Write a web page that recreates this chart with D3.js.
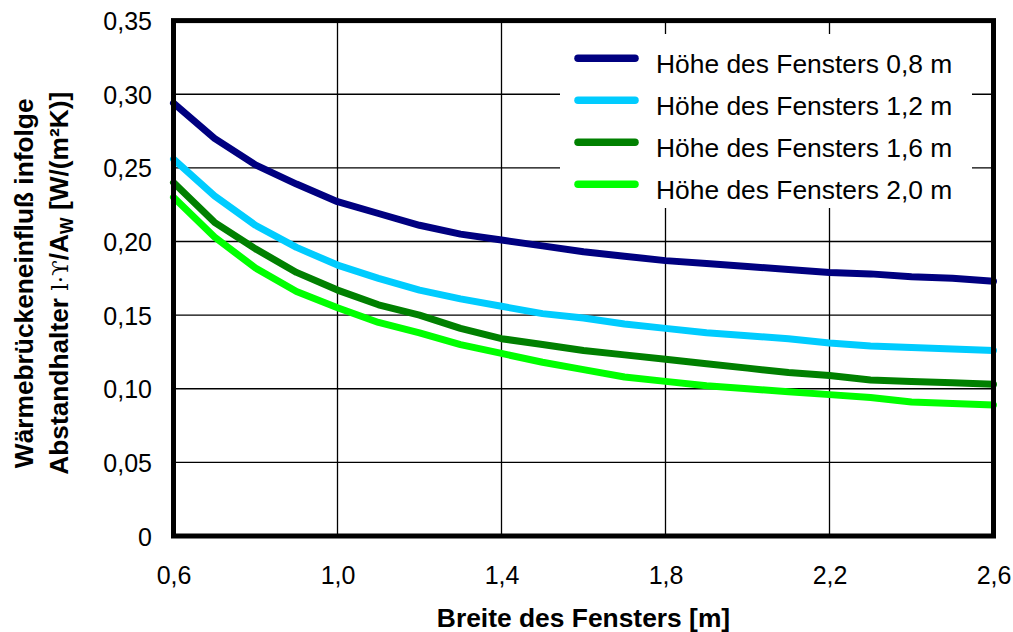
<!DOCTYPE html>
<html>
<head>
<meta charset="utf-8">
<script src="https://cdn.jsdelivr.net/npm/d3@7"></script>
<style>
  html, body { margin: 0; padding: 0; background: #fff; }
  svg { display: block; }
  text { font-family: "Liberation Sans", Arial, sans-serif; fill: #000; }
</style>
</head>
<body>
<svg id="chart" width="1013" height="632"></svg>
<script>
// ---- data ----
const widths = [0.6, 0.7, 0.8, 0.9, 1.0, 1.1, 1.2, 1.3, 1.4, 1.5, 1.6, 1.7, 1.8, 1.9, 2.0, 2.1, 2.2, 2.3, 2.4, 2.5, 2.6];
const height08 = [0.294, 0.270, 0.252, 0.239, 0.227, 0.219, 0.211, 0.205, 0.201, 0.197, 0.193, 0.190, 0.187, 0.185, 0.183, 0.181, 0.179, 0.178, 0.176, 0.175, 0.173];
const height12 = [0.256, 0.231, 0.211, 0.196, 0.184, 0.175, 0.167, 0.161, 0.156, 0.151, 0.148, 0.144, 0.141, 0.138, 0.136, 0.134, 0.131, 0.129, 0.128, 0.127, 0.126];
const height16 = [0.240, 0.213, 0.195, 0.179, 0.167, 0.157, 0.150, 0.141, 0.134, 0.130, 0.126, 0.123, 0.120, 0.117, 0.114, 0.111, 0.109, 0.106, 0.105, 0.104, 0.103];
const height20 = [0.230, 0.203, 0.182, 0.166, 0.155, 0.145, 0.138, 0.130, 0.124, 0.118, 0.113, 0.108, 0.105, 0.102, 0.100, 0.098, 0.096, 0.094, 0.091, 0.090, 0.089];
const seriesNames = ["Höhe des Fensters 0,8 m", "Höhe des Fensters 1,2 m", "Höhe des Fensters 1,6 m", "Höhe des Fensters 2,0 m"];
const xTicks = [0.6, 1.0, 1.4, 1.8, 2.2, 2.6];
const xTickLabels = ["0,6", "1,0", "1,4", "1,8", "2,2", "2,6"];
const yTicks = [0, 0.05, 0.10, 0.15, 0.20, 0.25, 0.30, 0.35];
const yTickLabels = ["0", "0,05", "0,10", "0,15", "0,20", "0,25", "0,30", "0,35"];

// ---- styles ----
const colors = ["#000080", "#00CCFF", "#008000", "#00FF00"];

(function () {
const allSeries = [height08, height12, height16, height20];

const svg = d3.select("#chart");
const pl = 173.5, pr = 993.5, pt = 20.6, pb = 536;
const x = d3.scaleLinear().domain([0.6, 2.6]).range([pl, pr]);
const y = d3.scaleLinear().domain([0, 0.35]).range([pb, pt]);

// grid
const grid = svg.append("g");
grid.selectAll("line.h").data(yTicks).join("line")
  .attr("x1", pl).attr("x2", pr)
  .attr("y1", d => y(d)).attr("y2", d => y(d))
  .attr("stroke", "#000").attr("stroke-width", 1.3);
grid.selectAll("line.v").data(xTicks).join("line")
  .attr("y1", pt).attr("y2", pb)
  .attr("x1", d => x(d)).attr("x2", d => x(d))
  .attr("stroke", "#000").attr("stroke-width", 1.3);

// legend background (hides grid)
const lg = svg.append("g");
lg.append("rect").attr("x", 560).attr("y", 34).attr("width", 412).attr("height", 174).attr("fill", "#fff");

// lines
const line = d3.line().x((d, i) => x(widths[i])).y(d => y(d));
svg.append("g").selectAll("path").data(allSeries).join("path")
  .attr("d", d => line(d))
  .attr("fill", "none")
  .attr("stroke", (d, i) => colors[i])
  .attr("stroke-width", 7)
  .attr("stroke-linejoin", "round")
  .attr("stroke-linecap", "round");

// legend entries
const legendY = d3.scaleLinear().domain([0, 3]).range([58.3, 184.3]);
const le = lg.selectAll("g.item").data(seriesNames).join("g").attr("class", "item");
le.append("line")
  .attr("x1", 578).attr("x2", 635)
  .attr("y1", (d, i) => legendY(i)).attr("y2", (d, i) => legendY(i))
  .attr("stroke", (d, i) => colors[i]).attr("stroke-width", 7.5).attr("stroke-linecap", "round");
le.append("text")
  .attr("x", 656).attr("y", (d, i) => legendY(i) + 14.4)
  .attr("font-size", 26.4)
  .text(d => d);
svg.node().appendChild(lg.node());

// frame
svg.append("rect").attr("x", pl).attr("y", pt).attr("width", pr - pl).attr("height", pb - pt)
  .attr("fill", "none").attr("stroke", "#000").attr("stroke-width", 5);

// axes labels
const xAxis = d3.axisBottom(x).tickValues(xTicks).tickSize(0).tickPadding(0)
  .tickFormat((d, i) => xTickLabels[i]);
const gx = svg.append("g").attr("transform", `translate(0,${pb})`).call(xAxis);
gx.select(".domain").remove();
gx.selectAll("text").attr("font-size", 25).attr("font-family", "Liberation Sans, Arial, sans-serif")
  .attr("fill", "#000").attr("dy", null).attr("y", 48);

const yAxis = d3.axisLeft(y).tickValues(yTicks).tickSize(0).tickPadding(0)
  .tickFormat((d, i) => yTickLabels[i]);
const gy = svg.append("g").attr("transform", `translate(152,0)`).call(yAxis);
gy.select(".domain").remove();
gy.selectAll("text").attr("font-size", 25).attr("font-family", "Liberation Sans, Arial, sans-serif")
  .attr("fill", "#000").attr("x", 0).attr("dy", "0.36em");

// axis titles
svg.append("text").attr("x", (pl + pr) / 2).attr("y", 627)
  .attr("text-anchor", "middle").attr("font-size", 26.4).attr("font-weight", "bold")
  .text("Breite des Fensters [m]");

const yt = svg.append("g").attr("transform", "translate(0,283.3) rotate(-90)");
yt.append("text").attr("x", 0).attr("y", 33).attr("text-anchor", "middle")
  .attr("font-size", 26.3).attr("font-weight", "bold")
  .text("Wärmebrückeneinfluß infolge");
const t2 = yt.append("text").attr("x", 0).attr("y", 68).attr("text-anchor", "middle")
  .attr("font-size", 26.3).attr("font-weight", "bold");
t2.append("tspan").text("Abstandhalter ");
t2.append("tspan").attr("font-weight", "normal").attr("font-family", "DejaVu Serif, serif").attr("font-size", 23).text("l·ϒ");
t2.append("tspan").text("/A");
t2.append("tspan").attr("font-size", 17.5).attr("dy", 5).text("W");
t2.append("tspan").attr("dy", -5).text(" [W/(m²K)]");
})();
</script>
</body>
</html>
